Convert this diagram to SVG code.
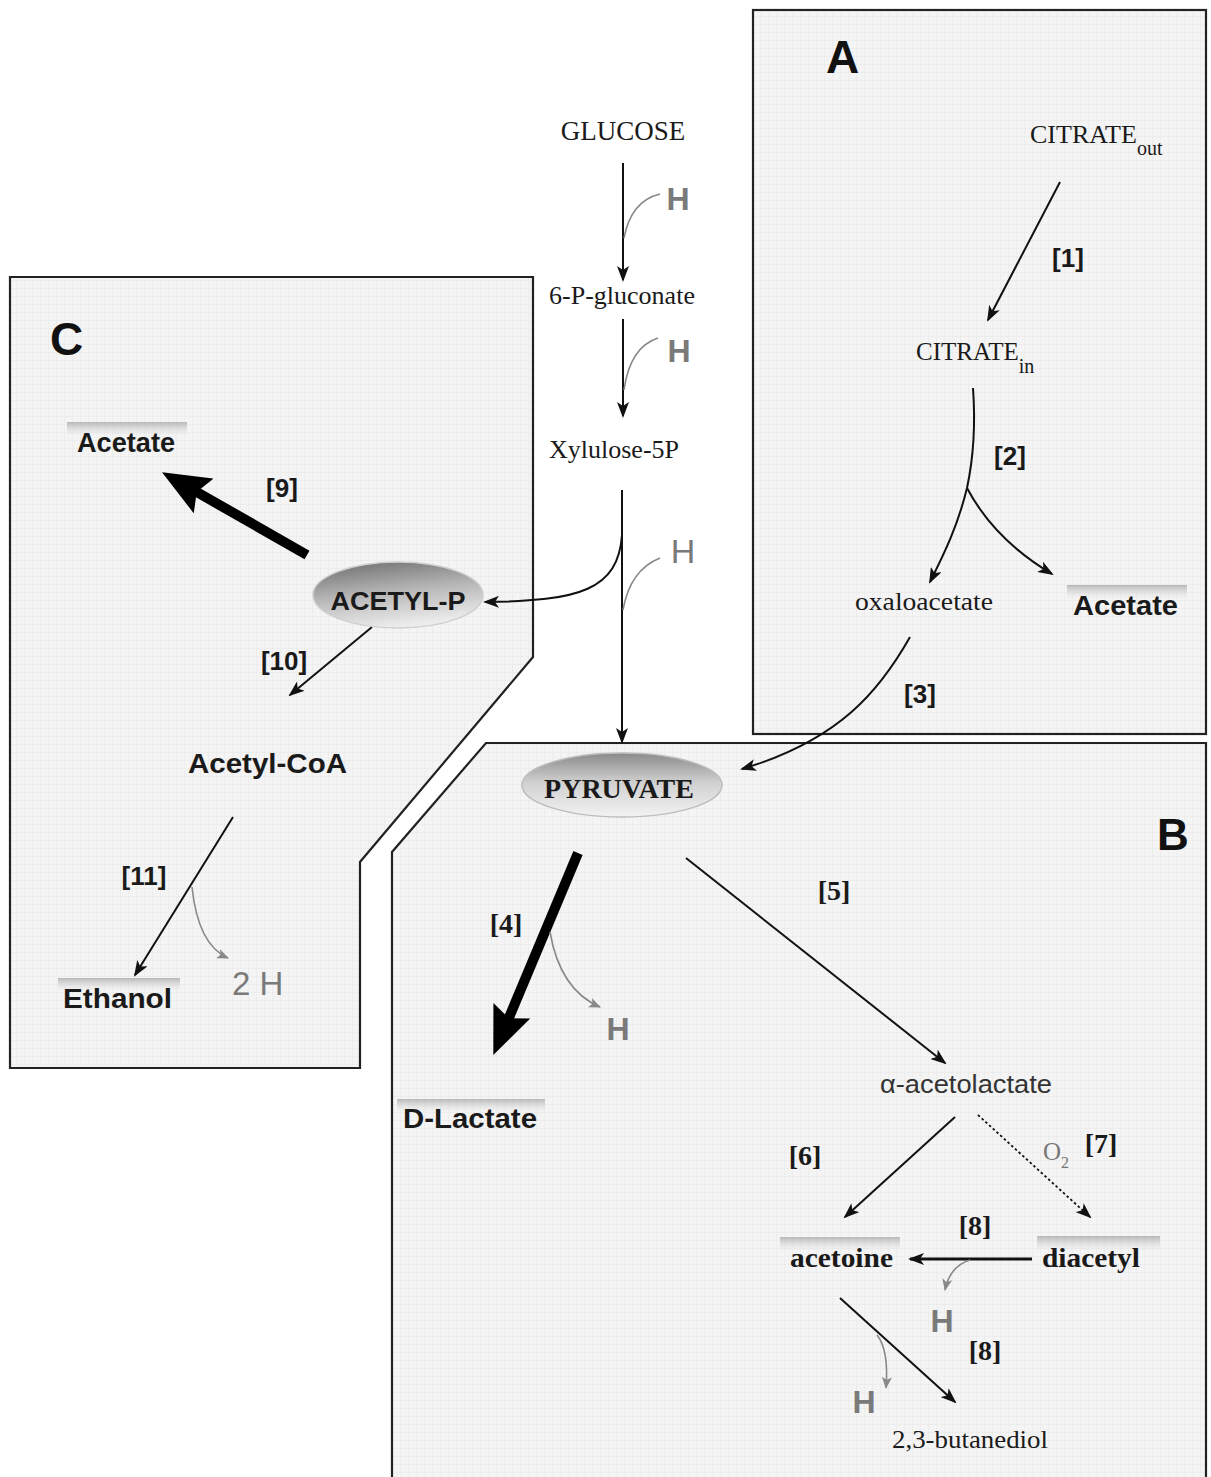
<svg xmlns="http://www.w3.org/2000/svg" width="1211" height="1477" viewBox="0 0 1211 1477">
<defs>
<style>
.panel{fill:url(#grid);stroke:#222;stroke-width:2.2}
.serif{font-family:"Liberation Serif","Times New Roman",serif;fill:#1a1a1a}
.sb{font-family:"Liberation Sans Narrow","Liberation Sans",Arial,sans-serif;font-weight:bold;fill:#1a1a1a}
.sbs{font-family:"Liberation Serif","Times New Roman",serif;font-weight:bold;fill:#1a1a1a}
.h{font-family:"Liberation Sans",Arial,sans-serif;font-weight:bold;fill:#7a7a7a;text-anchor:middle}
.hr{font-family:"Liberation Sans",Arial,sans-serif;fill:#7a7a7a}
.lbl{font-family:"Liberation Sans Narrow","Liberation Sans",Arial,sans-serif;font-weight:bold;fill:#1a1a1a;text-anchor:middle;font-size:26px}
.lbls{font-family:"Liberation Serif","Times New Roman",serif;font-weight:bold;fill:#1a1a1a;text-anchor:middle;font-size:28px}
.big{font-family:"Liberation Sans",Arial,sans-serif;font-weight:bold;fill:#111;font-size:46px}
.c{fill:none;stroke:#111;stroke-width:2;marker-end:url(#ah)}
.cg{fill:none;stroke:#888;stroke-width:1.6}
.cga{fill:none;stroke:#888;stroke-width:1.6;marker-end:url(#ahg)}
.thick{fill:none;stroke:#000;stroke-width:10;marker-end:url(#ahb)}
.band{fill:url(#bandg)}
</style>
<pattern id="grid" width="8" height="8" patternUnits="userSpaceOnUse">
<rect width="8" height="8" fill="#f4f4f4"/>
<path d="M0,0.5 H8 M0.5,0 V8" stroke="#e9e9e9" stroke-width="0.7"/>
</pattern>
<linearGradient id="bandg" x1="0" y1="0" x2="0" y2="1">
<stop offset="0" stop-color="#b8b8b8"/>
<stop offset="1" stop-color="#e6e6e6" stop-opacity="0.2"/>
</linearGradient>
<linearGradient id="ellA" x1="0.1" y1="0" x2="0.4" y2="1">
<stop offset="0" stop-color="#6e6e6e"/>
<stop offset="0.5" stop-color="#b5b5b5"/>
<stop offset="1" stop-color="#ececec"/>
</linearGradient>
<linearGradient id="ellP" x1="0" y1="0" x2="0" y2="1">
<stop offset="0" stop-color="#8a8a8a"/>
<stop offset="0.45" stop-color="#cfcfcf"/>
<stop offset="1" stop-color="#f3f3f3"/>
</linearGradient>
<marker id="ah" markerUnits="userSpaceOnUse" viewBox="0 0 16 12" markerWidth="16" markerHeight="12" refX="14" refY="6" orient="auto">
<path d="M0,0 L16,6 L0,12 L4,6 z" fill="#111"/>
</marker>
<marker id="ahg" markerUnits="userSpaceOnUse" viewBox="0 0 12 10" markerWidth="12" markerHeight="10" refX="11" refY="5" orient="auto">
<path d="M0,0 L12,5 L0,10 L3,5 z" fill="#888"/>
</marker>
<marker id="ahb" markerUnits="userSpaceOnUse" viewBox="0 0 48 40" markerWidth="48" markerHeight="40" refX="10" refY="20" orient="auto">
<path d="M0,0 L48,20 L0,40 L8,20 z" fill="#000"/>
</marker>
</defs>
<rect width="1211" height="1477" fill="#fff"/>

<g id="panels">
<rect id="panelA" class="panel" x="753" y="10" width="453" height="724"/>
<path id="panelC" class="panel" d="M10,277 L533,277 L533,657 L360,862 L360,1068 L10,1068 Z"/>
<path id="panelB" class="panel" d="M486,743 L1206,743 L1206,1482 L392,1482 L392,852 Z"/>
<text class="big" x="826" y="73">A</text>
<text class="big" x="50" y="355">C</text>
<text class="big" x="1157" y="850" style="font-size:44px">B</text>
</g>

<g id="connectors">
<path class="c" d="M623,163 L623,280"/>
<path class="cg" d="M660,194 Q631,201 624,238"/>
<path class="c" d="M623,319 L623,416"/>
<path class="cg" d="M658,338 Q630,347 624,390"/>
<path class="c" d="M622,490 L622,742"/>
<path class="c" d="M622,535 C618,590 580,601 485,602"/>
<path class="cg" d="M660,558 Q630,570 623,610"/>
<path class="thick" d="M307,555 L195,491"/>
<path class="c" d="M372,627 L290,695"/>
<path class="c" d="M233,817 L135,975"/>
<path class="cga" d="M192,887 Q198,945 228,958"/>
<path class="c" d="M1060,182 L988,320"/>
<path class="c" style="marker-end:none" d="M973,388 C976,430 973,460 967,488"/>
<path class="c" d="M967,488 C958,525 945,552 930,582"/>
<path class="c" d="M967,488 C985,522 1015,552 1052,574"/>
<path class="c" d="M910,637 C880,690 840,740 742,769"/>
<path class="thick" d="M578,853 L508,1020"/>
<path class="cga" d="M550,932 Q560,990 600,1007"/>
<path class="c" d="M686,858 L945,1063"/>
<path class="c" d="M955,1117 L845,1217"/>
<path class="c" style="stroke-dasharray:2.5,2.5;stroke-width:1.8" d="M978,1115 L1090,1217"/>
<path class="c" style="stroke-width:3" d="M1032,1259 L910,1259"/>
<path class="cga" d="M970,1260 Q950,1266 945,1290"/>
<path class="c" d="M840,1298 L955,1402"/>
<path class="cga" d="M877,1335 Q889,1350 886,1388"/>
</g>

<g id="n-glucose"><text class="serif" x="623" y="140" text-anchor="middle" font-size="27">GLUCOSE</text></g>
<g id="h1"><text class="h" x="678" y="210" font-size="32">H</text></g>
<g id="n-6pg"><text class="serif" x="622" y="304" text-anchor="middle" font-size="26">6-P-gluconate</text></g>
<g id="h2"><text class="h" x="679" y="362" font-size="32">H</text></g>
<g id="n-xyl"><text class="serif" x="614" y="458" text-anchor="middle" font-size="26">Xylulose-5P</text></g>
<g id="h3"><text class="hr" x="683" y="563" text-anchor="middle" font-size="34">H</text></g>

<g id="n-citout"><text class="serif" x="1030" y="143" font-size="26">CITRATE<tspan font-size="20" dy="12">out</tspan></text></g>
<g id="l1"><text class="lbl" x="1068" y="267">[1]</text></g>
<g id="n-citin"><text class="serif" x="916" y="360" font-size="25">CITRATE<tspan font-size="20" dy="13">in</tspan></text></g>
<g id="l2"><text class="lbl" x="1010" y="465">[2]</text></g>
<g id="n-oxalo"><text class="serif" x="855" y="610" font-size="25" textLength="138" lengthAdjust="spacingAndGlyphs">oxaloacetate</text></g>
<g id="n-acetateA"><rect class="band" x="1067" y="585" width="120" height="13"/><text class="sb" x="1073" y="615" font-size="28" textLength="105" lengthAdjust="spacingAndGlyphs">Acetate</text></g>
<g id="l3"><text class="lbl" x="920" y="703">[3]</text></g>

<g id="n-acetateC"><rect class="band" x="67" y="422" width="120" height="13"/><text class="sb" x="77" y="452" font-size="27" textLength="98" lengthAdjust="spacingAndGlyphs">Acetate</text></g>
<g id="l9"><text class="lbl" x="282" y="497" font-size="28">[9]</text></g>
<g id="n-acetylp"><ellipse cx="398" cy="595" rx="85" ry="33" fill="url(#ellA)" stroke="#cfcfcf" stroke-width="1.5"/><text class="sb" x="398" y="610" text-anchor="middle" font-size="26" textLength="135" lengthAdjust="spacingAndGlyphs">ACETYL-P</text></g>
<g id="l10"><text class="lbl" x="284" y="670" font-size="28">[10]</text></g>
<g id="n-acetylcoa"><text class="sb" x="188" y="773" font-size="28" textLength="159" lengthAdjust="spacingAndGlyphs">Acetyl-CoA</text></g>
<g id="l11"><text class="lbl" x="144" y="885" font-size="27">[11]</text></g>
<g id="n-ethanol"><rect class="band" x="58" y="978" width="122" height="12"/><text class="sb" x="63" y="1008" font-size="28" textLength="109" lengthAdjust="spacingAndGlyphs">Ethanol</text></g>
<g id="h2H"><text class="hr" x="232" y="995" font-size="33">2 H</text></g>

<g id="n-pyruvate"><ellipse cx="622" cy="785" rx="100" ry="32" fill="url(#ellP)" stroke="#bdbdbd" stroke-width="1.5"/><text class="sbs" x="619" y="798" text-anchor="middle" font-size="28">PYRUVATE</text></g>
<g id="l4"><text class="lbls" x="506" y="933">[4]</text></g>
<g id="h4"><text class="h" x="618" y="1040" font-size="32">H</text></g>
<g id="l5"><text class="lbls" x="834" y="900">[5]</text></g>
<g id="n-dlactate"><rect class="band" x="397" y="1099" width="148" height="12"/><text class="sb" x="403" y="1128" font-size="28" textLength="134" lengthAdjust="spacingAndGlyphs">D-Lactate</text></g>
<g id="n-acetolactate"><text x="880" y="1093" font-family="Liberation Sans, Arial, sans-serif" fill="#333" font-size="25" textLength="172" lengthAdjust="spacingAndGlyphs">α-acetolactate</text></g>
<g id="l6"><text class="lbls" x="805" y="1165">[6]</text></g>
<g id="o2"><text class="serif" x="1043" y="1160" font-size="25" style="fill:#777">O<tspan font-size="16" dy="8">2</tspan></text></g>
<g id="l7"><text class="lbls" x="1101" y="1153">[7]</text></g>
<g id="n-acetoine"><rect class="band" x="780" y="1237" width="120" height="13"/><text class="sbs" x="790" y="1267" font-size="28" textLength="103" lengthAdjust="spacingAndGlyphs">acetoine</text></g>
<g id="n-diacetyl"><rect class="band" x="1037" y="1236" width="123" height="14"/><text class="sbs" x="1042" y="1267" font-size="28" textLength="98" lengthAdjust="spacingAndGlyphs">diacetyl</text></g>
<g id="l8a"><text class="lbls" x="975" y="1235">[8]</text></g>
<g id="h5"><text class="h" x="942" y="1332" font-size="32">H</text></g>
<g id="l8b"><text class="lbls" x="985" y="1360">[8]</text></g>
<g id="h6"><text class="h" x="864" y="1413" font-size="32">H</text></g>
<g id="n-butanediol"><text class="serif" x="892" y="1448" font-size="25" textLength="156" lengthAdjust="spacingAndGlyphs">2,3-butanediol</text></g>
</svg>
